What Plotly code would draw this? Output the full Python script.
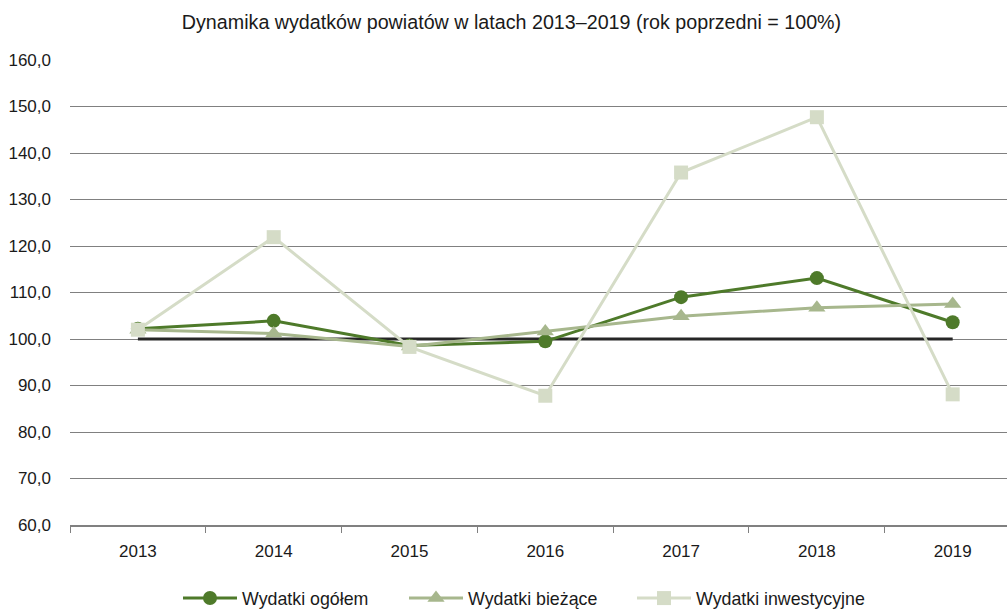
import plotly.graph_objects as go

years = ["2013", "2014", "2015", "2016", "2017", "2018", "2019"]
ogolem = [102.2, 103.9, 98.6, 99.5, 109.0, 113.1, 103.6]
biezace = [102.0, 101.2, 98.4, 101.6, 104.9, 106.7, 107.5]
inwestycyjne = [102.0, 121.9, 98.3, 87.8, 135.8, 147.7, 88.1]
baseline = [100, 100, 100, 100, 100, 100, 100]
ytick_vals = [60, 70, 80, 90, 100, 110, 120, 130, 140, 150, 160]
ytick_text = ["60,0", "70,0", "80,0", "90,0", "100,0", "110,0", "120,0",
              "130,0", "140,0", "150,0", "160,0"]
title = "Dynamika wydatków powiatów w latach 2013–2019 (rok poprzedni = 100%)"

FONT = "Liberation Sans, Arial, sans-serif"

fig = go.Figure()
fig.add_trace(go.Scatter(x=years, y=baseline, mode="lines",
                         line=dict(color="#262626", width=3),
                         showlegend=False, hoverinfo="skip"))
fig.add_trace(go.Scatter(x=years, y=ogolem, mode="lines+markers", name="Wydatki ogółem",
                         line=dict(color="#4e7a2a", width=3),
                         marker=dict(symbol="circle", size=14, color="#4e7a2a")))
fig.add_trace(go.Scatter(x=years, y=biezace, mode="lines+markers", name="Wydatki bieżące",
                         line=dict(color="#a7b78d", width=3),
                         marker=dict(symbol="triangle-up", size=15, color="#a7b78d")))
fig.add_trace(go.Scatter(x=years, y=inwestycyjne, mode="lines+markers", name="Wydatki inwestycyjne",
                         legend="legend2",
                         line=dict(color="#d5dcc7", width=3),
                         marker=dict(symbol="square", size=14, color="#d5dcc7")))

legend_common = dict(orientation="h", xref="container", yref="container",
                     xanchor="left", y=1 - 580 / 609, yanchor="top",
                     font=dict(family=FONT, size=17.8, color="#1a1a1a"),
                     itemwidth=54, bgcolor="rgba(0,0,0,0)")

fig.update_layout(
    width=1007, height=609,
    margin=dict(l=70, r=0, t=60, b=84, autoexpand=False),
    paper_bgcolor="white", plot_bgcolor="white",
    font=dict(family=FONT, size=17, color="#1a1a1a"),
    title=dict(text=title, font=dict(family=FONT, size=19.7, color="#1a1a1a"),
               xref="container", x=511.5 / 1007, xanchor="center",
               yref="container", y=1 - 22 / 609, yanchor="middle"),
    showlegend=True,
    legend=dict(x=178 / 1007, entrywidth=157, entrywidthmode="pixels", **legend_common),
    legend2=dict(x=632 / 1007, **legend_common),
    xaxis=dict(type="category", range=[-0.5, 6.4], tickson="boundaries",
               ticks="outside", ticklen=6, tickcolor="#808080", tickwidth=1,
               showline=True, linecolor="#808080", linewidth=1.5,
               showgrid=False, zeroline=False, ticklabelstandoff=10,
               automargin=False,
               tickfont=dict(family=FONT, size=17, color="#1a1a1a")),
    yaxis=dict(range=[60, 160], tickvals=ytick_vals, ticktext=ytick_text,
               showgrid=True, gridcolor="#808080", gridwidth=1,
               zeroline=False, showline=False, ticks="",
               ticklabelstandoff=18, automargin=False,
               tickfont=dict(family=FONT, size=17, color="#1a1a1a")),
)

fig.write_html("out.html", config={"displayModeBar": False},
               post_script="document.body.style.margin='0';")
